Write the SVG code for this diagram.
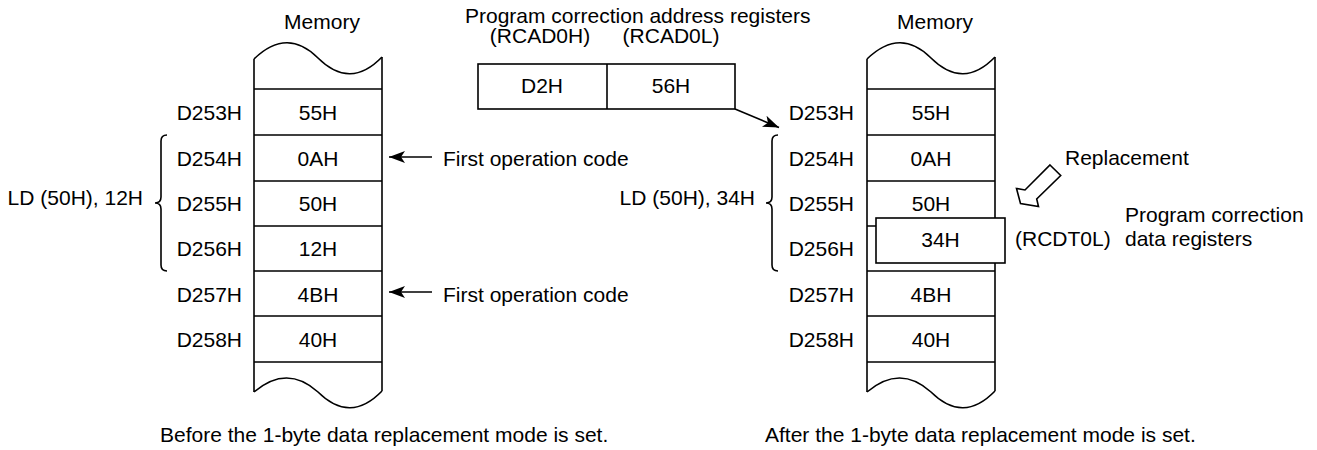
<svg xmlns="http://www.w3.org/2000/svg" width="1317" height="450" viewBox="0 0 1317 450">
<style>
text{font-family:"Liberation Sans",Arial,sans-serif;font-size:21px;fill:#000}
.ln{stroke:#000;stroke-width:1.6;fill:none}
.box{stroke:#000;stroke-width:1.6;fill:#fff}
.m{text-anchor:middle}
.e{text-anchor:end}
</style>
<defs>
<marker id="ah" markerUnits="userSpaceOnUse" markerWidth="18" markerHeight="12" refX="16" refY="6" orient="auto" viewBox="0 0 18 12">
<path d="M0,0 L16,6 L0,12 L4,6 Z" fill="#000"/>
</marker>
</defs>
<rect width="1317" height="450" fill="#fff"/>

<g id="memory-before">
<text class="m" x="322" y="29">Memory</text>
<path class="ln" d="M254,59 Q287,27 318,58 Q350,90 382,57"/>
<path class="ln" d="M254,392 Q287,364 318,392 Q350,424 382,391"/>
<line class="ln" x1="254" y1="59" x2="254" y2="392"/>
<line class="ln" x1="382" y1="57" x2="382" y2="391"/>
<path class="ln" d="M254,89H382M254,135H382M254,181H382M254,226H382M254,271H382M254,316H382M254,362H382"/>
<text class="e" x="242" y="120">D253H</text>
<text class="e" x="242" y="165.5">D254H</text>
<text class="e" x="242" y="211">D255H</text>
<text class="e" x="242" y="256">D256H</text>
<text class="e" x="242" y="301.5">D257H</text>
<text class="e" x="242" y="346.5">D258H</text>
<text class="m" x="318" y="120">55H</text>
<text class="m" x="318" y="165.5">0AH</text>
<text class="m" x="318" y="211">50H</text>
<text class="m" x="318" y="256">12H</text>
<text class="m" x="318" y="301.5">4BH</text>
<text class="m" x="318" y="346.5">40H</text>
<path class="ln" d="M167,135 Q161,135 161,141 L161,197 Q161,203 155,203 Q161,203 161,209 L161,265 Q161,271 167,271"/>
<text class="e" x="143" y="205">LD (50H), 12H</text>
<text x="443" y="165.5">First operation code</text>
<text x="443" y="301.5">First operation code</text>
<text x="160" y="442">Before the 1-byte data replacement mode is set.</text>
</g>

<g id="address-registers">
<text x="465" y="22.5">Program correction address registers</text>
<text class="m" x="540" y="43">(RCAD0H)</text>
<text class="m" x="671" y="43">(RCAD0L)</text>
<rect class="box" x="478" y="64" width="257" height="45"/>
<line class="ln" x1="607" y1="64" x2="607" y2="109"/>
<text class="m" x="542" y="93">D2H</text>
<text class="m" x="671" y="93">56H</text>
</g>

<g id="memory-after">
<text class="m" x="935" y="29">Memory</text>
<path class="ln" d="M867,59 Q900,27 931,58 Q963,90 995,57"/>
<path class="ln" d="M867,392 Q900,364 931,392 Q963,424 995,391"/>
<line class="ln" x1="867" y1="59" x2="867" y2="392"/>
<line class="ln" x1="995" y1="57" x2="995" y2="391"/>
<path class="ln" d="M867,89H995M867,135H995M867,181H995M867,226H995M867,271H995M867,316H995M867,362H995"/>
<text class="e" x="854" y="120">D253H</text>
<text class="e" x="854" y="165.5">D254H</text>
<text class="e" x="854" y="211">D255H</text>
<text class="e" x="854" y="256">D256H</text>
<text class="e" x="854" y="301.5">D257H</text>
<text class="e" x="854" y="346.5">D258H</text>
<text class="m" x="931" y="120">55H</text>
<text class="m" x="931" y="165.5">0AH</text>
<text class="m" x="931" y="211">50H</text>
<text class="m" x="931" y="301.5">4BH</text>
<text class="m" x="931" y="346.5">40H</text>
<path class="ln" d="M778,135 Q772,135 772,141 L772,197 Q772,203 766,203 Q772,203 772,209 L772,265 Q772,271 778,271"/>
<text class="e" x="755" y="205">LD (50H), 34H</text>
<text x="765" y="442">After the 1-byte data replacement mode is set.</text>
</g>

<g id="data-register">
<rect class="box" x="876" y="218" width="129" height="45"/>
<text class="m" x="940.5" y="247">34H</text>
<text x="1015" y="246">(RCDT0L)</text>
<text x="1125" y="222">Program correction</text>
<text x="1125" y="246">data registers</text>
</g>

<g id="replacement">
<text x="1065" y="165">Replacement</text>
<path class="ln" stroke-linejoin="miter" d="M1050,165 L1060.7,175.5 L1036.7,199 L1038.5,206.5 L1020.5,203.5 L1016.5,188.5 L1025,190 Z"/>
</g>

<g id="connectors">
<line class="ln" x1="432" y1="157" x2="389" y2="157" marker-end="url(#ah)"/>
<line class="ln" x1="432" y1="292" x2="389" y2="292" marker-end="url(#ah)"/>
<line class="ln" x1="735" y1="109" x2="779" y2="127.5" marker-end="url(#ah)"/>
</g>
</svg>
